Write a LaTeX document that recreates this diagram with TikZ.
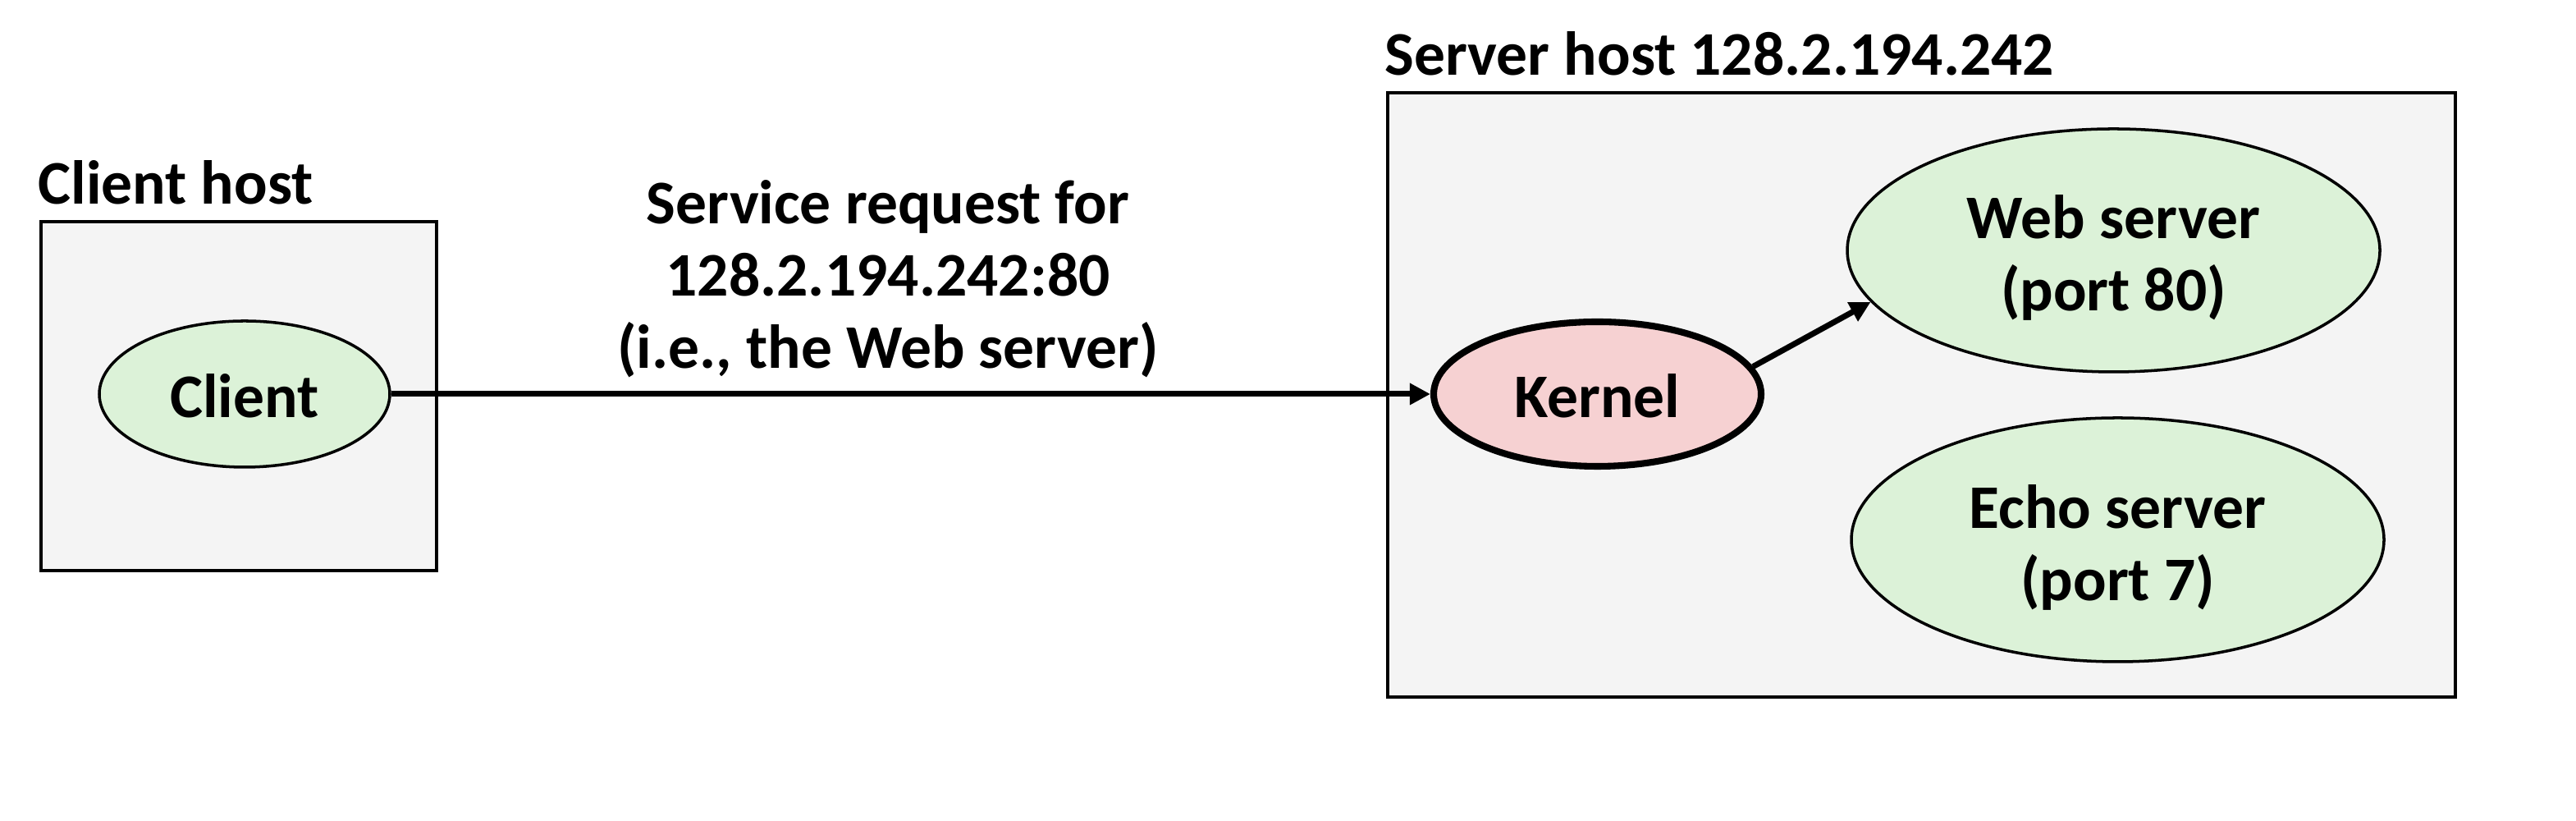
\documentclass[tikz,border=0pt]{standalone}
\usepackage{fontspec}
\setmainfont{Carlito}
\usepackage{tikz}
\usetikzlibrary{positioning}
\usetikzlibrary{shapes}
\usetikzlibrary{arrows.meta}
\definecolor{boxgray}{RGB}{244,244,244}
\definecolor{procgreen}{RGB}{220,242,216}
\definecolor{kernpink}{RGB}{246,209,210}
\newcommand{\diagfont}{\fontsize{21.5}{25}\selectfont\bfseries}
\tikzset{hostbox/.style={draw, line width=1.2pt, fill=boxgray, inner sep=0pt}}
\tikzset{hostlabel/.style={anchor=base west, inner sep=0pt, font=\diagfont}}
\tikzset{proc/.style={ellipse, draw, line width=1pt, fill=procgreen, inner sep=0pt, align=center, font=\diagfont, text height=16.4pt, text depth=0pt}}
\tikzset{proctwo/.style={proc, text height=42pt}}
\tikzset{kern/.style={proc, line width=2.3pt, fill=kernpink}}
\tikzset{reqarrow/.style={line width=2pt, -{Triangle[length=0.25cm, width=0.25cm]}}}
\begin{document}
\begin{tikzpicture}

\useasboundingbox (0,0) rectangle (31.39,10);

\node[hostbox, minimum width=4.82cm, minimum height=4.25cm] (clientbox) at (2.91, 5.175) {};
\node[hostbox, minimum width=13.01cm, minimum height=7.36cm] (serverbox) at (23.415, 5.19) {};

\node[hostlabel, xshift=-0.02cm, yshift=0.19cm] (clientlbl) at (clientbox.north west) {Client host};
\node[hostlabel, xshift=-0.02cm, yshift=0.19cm] (serverlbl) at (serverbox.north west) {Server host 128.2.194.242};

\node[proc, minimum width=3.54cm, minimum height=1.78cm] (client) at (2.98, 5.20) {Client};
\node[kern, minimum width=3.99cm, minimum height=1.76cm] (kernel) at (19.465, 5.20) {Kernel};
\node[proctwo, minimum width=6.49cm, minimum height=2.96cm] (web) at (25.755, 6.95) {Web server\\(port 80)};
\node[proctwo, minimum width=6.49cm, minimum height=2.97cm] (echo) at (25.805, 3.425) {Echo server\\(port 7)};

\node[align=center, inner sep=0pt, font=\diagfont] (request) at (10.82, 6.60)
{Service request for\\128.2.194.242:80\\(i.e., the Web server)};

\draw[reqarrow] (client.east) -- (kernel.west);
\draw[reqarrow] (kernel.10) -- (web.192);

\end{tikzpicture}
\end{document}
